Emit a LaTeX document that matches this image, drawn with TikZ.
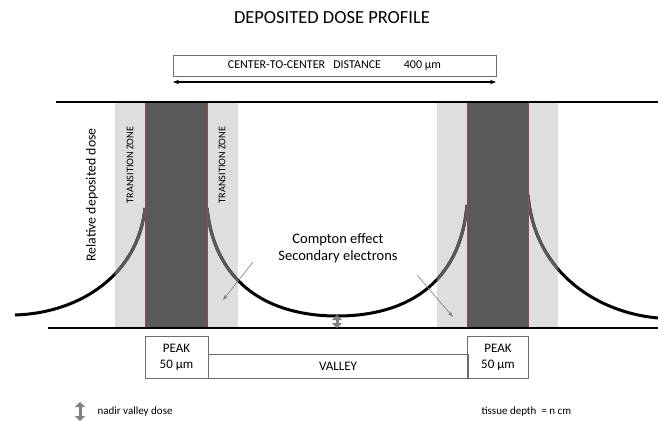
\documentclass[tikz,border=0pt]{standalone}
\usepackage{fontspec}
\setmainfont{Carlito}
\usetikzlibrary{arrows.meta}

\definecolor{zonegray}{RGB}{222,222,222}
\definecolor{peakgray}{RGB}{89,89,89}
\definecolor{peakred}{RGB}{160,70,66}
\definecolor{boxgray}{RGB}{110,110,110}
\definecolor{nadirgray}{RGB}{128,128,128}

\tikzset{
  zone/.style={fill=zonegray},
  peakband/.style={fill=peakgray, draw=peakred, line width=0.4pt},
  dosecurve/.style={line width=3pt},
  baseline/.style={line width=2.2pt},
  labelbox/.style={draw=boxgray, line width=0.8pt, inner sep=0pt, align=center,
    font=\fontsize{13}{16}\selectfont},
  zonetext/.style={rotate=90, font=\fontsize{10.2}{12}\selectfont},
  hint/.style={draw=gray, line width=0.6pt, -{Stealth[length=6pt,width=4pt]}},
  nadir/.style={draw=nadirgray, line width=3pt,
    {Triangle[width=10pt,length=5pt]}-{Triangle[width=10pt,length=5pt]}},
}

\newcommand{\dosepath}{
  (15,315) .. controls (80,313) and (138,275) .. (145,208)
  (207,208) .. controls (215,285) and (270,316) .. (337,316)
  .. controls (405,316) and (460,285) .. (467,205)
  (528,195) .. controls (535,275) and (600,313) .. (658,318)}

\begin{document}
\begin{tikzpicture}[x=1pt, y=-1pt]
  \useasboundingbox (0,0) rectangle (663,422);

  % title and spacing
  \node[font=\fontsize{18.5}{22}\selectfont] (title) at (332,18) {DEPOSITED DOSE PROFILE};
  \node[draw=boxgray, line width=0.8pt, minimum width=323pt, minimum height=21pt, inner sep=0pt,
    font=\fontsize{12}{14}\selectfont] (ctc) at (334.5,65.5)
    {CENTER-TO-CENTER~~ DISTANCE \quad~~ 400 µm};
  \coordinate (ctcL) at (173,82);
  \coordinate (ctcR) at (496,82);
  \draw[line width=1.5pt, {Stealth[length=6pt]}-{Stealth[length=6pt]}] (ctcL) -- (ctcR);

  % transition zones
  \fill[zone] (115,102) rectangle (238,328);
  \fill[zone] (437,102) rectangle (558,328);

  % dose curves
  \draw[dosecurve] \dosepath;
  \begin{scope}
    \clip (115,102) rectangle (238,328) (437,102) rectangle (558,328);
    \draw[dosecurve, peakgray] \dosepath;
  \end{scope}

  % peaks
  \filldraw[peakband] (145,102) rectangle (207,328);
  \filldraw[peakband] (467,102) rectangle (528,328);

  % top and bottom lines
  \draw[baseline] (56,102) -- (658,102);
  \draw[baseline] (48,328) -- (658,328);

  % labels
  \node[rotate=90, font=\fontsize{13.8}{16}\selectfont] (ylab) at (92,195) {Relative deposited dose};
  \node[zonetext] (tzA) at (130,165) {TRANSITION ZONE};
  \node[zonetext] (tzB) at (222,165) {TRANSITION ZONE};
  \node[align=center, font=\fontsize{14.5}{17.5}\selectfont] (compton) at (338,248)
    {Compton effect\\Secondary electrons};
  \coordinate (hintA) at (253,262);
  \coordinate (hintAend) at (223,300);
  \coordinate (hintB) at (417,275);
  \coordinate (hintBend) at (453,317);
  \draw[hint] (hintA) -- (hintAend);
  \draw[hint] (hintB) -- (hintBend);

  % nadir
  \coordinate (nadirTop) at (337,315);
  \coordinate (nadirBot) at (337,328);
  \draw[nadir] (nadirTop) -- (nadirBot);

  % bottom boxes
  \node[labelbox, minimum width=63pt, minimum height=42pt] (peakA) at (176.5,357) {PEAK\\50 µm};
  \node[labelbox, minimum width=260pt, minimum height=24pt] (valley) at (338,366) {VALLEY};
  \node[labelbox, minimum width=61pt, minimum height=42pt] (peakB) at (498,357) {PEAK\\50 µm};

  % legend
  \coordinate (legTop) at (80,402);
  \coordinate (legBot) at (80,421);
  \draw[nadir] (legTop) -- (legBot);
  \node[anchor=west, font=\fontsize{11}{13}\selectfont] (legtext) at (94,412) {nadir valley dose};
  \node[anchor=west, font=\fontsize{11}{13}\selectfont] (depth) at (478,412) {tissue depth~~= n cm};
\end{tikzpicture}
\end{document}
